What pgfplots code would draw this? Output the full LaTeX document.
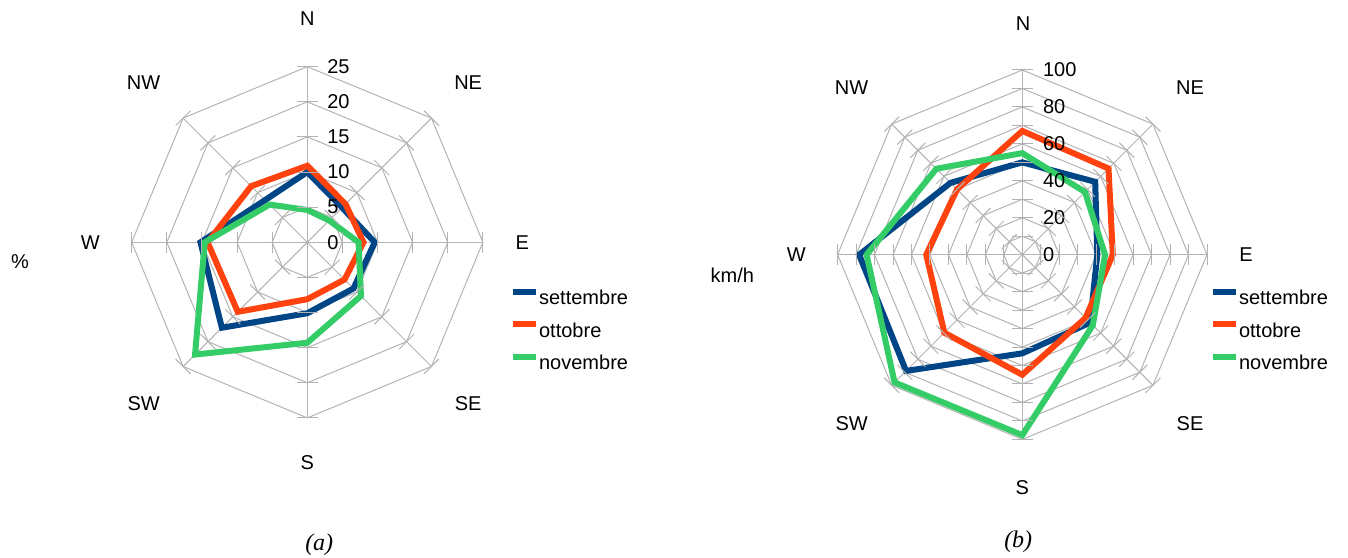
\documentclass[border=0pt]{standalone}
\usepackage{fontspec}
\setmainfont{Liberation Sans}
\newfontfamily\timesfont{Liberation Serif}
\usepackage{pgfplots}
\pgfplotsset{compat=1.18}
\definecolor{cblue}{RGB}{0,69,134}
\definecolor{corange}{RGB}{255,66,14}
\definecolor{cgreen}{RGB}{52,204,102}
\definecolor{cgrid}{RGB}{179,179,179}
\pgfplotsset{
  radar/.style={axis lines=none, clip=false, anchor=origin,
    legend cell align=left,
    legend image code/.code={\draw[##1] (0pt,2.6pt) -- (11.7pt,2.6pt);},
  },
}
\begin{document}
\begin{tikzpicture}
\path[use as bounding box] (0,0) rectangle (674pt,278.5pt);
% ---------------- (a) ----------------
\begin{axis}[radar, at={(153.65pt,157.35pt)}, x=3.512pt, y=3.512pt,
  xmin=-26,xmax=26,ymin=-26,ymax=26,
  legend style={draw=none, fill=none, at={(axis description cs:1.0531,0.374)}, anchor=north west,
    inner sep=0pt, row sep=8.5pt, nodes={inner sep=0pt, text height=7.5pt, text depth=0pt},
    /tikz/every even column/.append style={column sep=2.3pt}}]
\pgfplotsinvokeforeach{5,10,15,20,25}{
  \addplot[cgrid, line width=0.5pt, forget plot, data cs=polar] coordinates {(0,#1) (45,#1) (90,#1) (135,#1) (180,#1) (225,#1) (270,#1) (315,#1) (360,#1)};
}
\pgfplotsinvokeforeach{0,45,90,135,180,225,270,315}{
  \addplot[cgrid, line width=0.5pt, forget plot, data cs=polar] coordinates {(#1,0) (#1,25)};
  \addplot[cgrid, line width=0.5pt, forget plot, only marks, mark=|, mark size=5.3pt, mark options={rotate=#1, line width=0.5pt}, data cs=polar] coordinates {(#1,5) (#1,10) (#1,15) (#1,20) (#1,25)};
}
\addplot[cblue, line width=3pt, data cs=polar] coordinates {(90,10) (45,7.0) (0,9.6) (-45,9.3) (-90,10.1) (-135,17.2) (180,15.2) (135,8.5) (90,10) (45,7.0)};
\addplot[corange, line width=3pt, data cs=polar] coordinates {(90,10.9) (45,7.7) (0,8.0) (-45,7.5) (-90,8.1) (-135,14.0) (180,14.2) (135,11.3) (90,10.9) (45,7.7)};
\addplot[cgreen, line width=3pt, data cs=polar] coordinates {(90,4.6) (45,4.4) (0,7.3) (-45,10.8) (-90,14.3) (-135,22.6) (180,14.6) (135,7.6) (90,4.6) (45,4.4)};
\legend{settembre,ottobre,novembre}
\pgfplotsinvokeforeach{0,5,10,15,20,25}{
  \node[anchor=west, inner sep=0pt] at (axis cs:2.8,#1) {#1};
}
\node at (axis cs:0,31.9) {N};
\node at (axis cs:22.9,22.7) {NE};
\node at (axis cs:30.6,0) {E};
\node at (axis cs:22.9,-23.0) {SE};
\node at (axis cs:0,-31.4) {S};
\node at (axis cs:-23.3,-23.0) {SW};
\node at (axis cs:-30.9,0) {W};
\node at (axis cs:-23.3,22.7) {NW};
\node at (axis cs:-40.9,-2.8) {\%};
\node at (axis cs:1.7,-43.1) {\timesfont\fontsize{12}{14}\selectfont\itshape (a)};
\end{axis}
% ---------------- (b) ----------------
\begin{axis}[radar, at={(511.15pt,151.15pt)}, x=0.9235pt, y=0.9235pt,
  xmin=-104,xmax=104,ymin=-104,ymax=104,
  legend style={draw=none, fill=none, at={(axis description cs:0.9865,0.4125)}, anchor=north west,
    inner sep=0pt, row sep=8.5pt, nodes={inner sep=0pt, text height=7.5pt, text depth=0pt},
    /tikz/every even column/.append style={column sep=2.3pt}}]
\pgfplotsinvokeforeach{10,20,30,40,50,60,70,80,90,100}{
  \addplot[cgrid, line width=0.5pt, forget plot, data cs=polar] coordinates {(0,#1) (45,#1) (90,#1) (135,#1) (180,#1) (225,#1) (270,#1) (315,#1) (360,#1)};
}
\pgfplotsinvokeforeach{0,45,90,135,180,225,270,315}{
  \addplot[cgrid, line width=0.5pt, forget plot, data cs=polar] coordinates {(#1,0) (#1,100)};
  \addplot[cgrid, line width=0.5pt, forget plot, only marks, mark=|, mark size=5.3pt, mark options={rotate=#1, line width=0.5pt}, data cs=polar] coordinates {(#1,10) (#1,20) (#1,30) (#1,40) (#1,50) (#1,60) (#1,70) (#1,80) (#1,90) (#1,100)};
}
\addplot[cblue, line width=3pt, data cs=polar] coordinates {(90,50) (45,55.8) (0,40.6) (-45,52) (-90,53.4) (-135,89) (180,88.3) (135,55) (90,50) (45,55.8)};
\addplot[corange, line width=3pt, data cs=polar] coordinates {(90,67) (45,66) (0,49) (-45,48.4) (-90,65) (-135,59.7) (180,52) (135,50) (90,67) (45,66)};
\addplot[cgreen, line width=3pt, data cs=polar] coordinates {(90,55) (45,48) (0,44.8) (-45,54) (-90,97.7) (-135,97.8) (180,84.3) (135,65.8) (90,55) (45,48)};
\legend{settembre,ottobre,novembre}
\pgfplotsinvokeforeach{0,20,40,60,80,100}{
  \node[anchor=west, inner sep=0pt] at (axis cs:11,#1) {#1};
}
\node at (axis cs:0.4,125.3) {N};
\node at (axis cs:90.8,90.4) {NE};
\node at (axis cs:121.1,0) {E};
\node at (axis cs:90.8,-91.3) {SE};
\node at (axis cs:0,-126.3) {S};
\node at (axis cs:-92.4,-91.3) {SW};
\node at (axis cs:-122.4,0) {W};
\node at (axis cs:-92.4,90.4) {NW};
\node at (axis cs:-157,-11) {km/h};
\node at (axis cs:-2.2,-155.4) {\timesfont\fontsize{12}{14}\selectfont\itshape (b)};
\end{axis}
\end{tikzpicture}
\end{document}
